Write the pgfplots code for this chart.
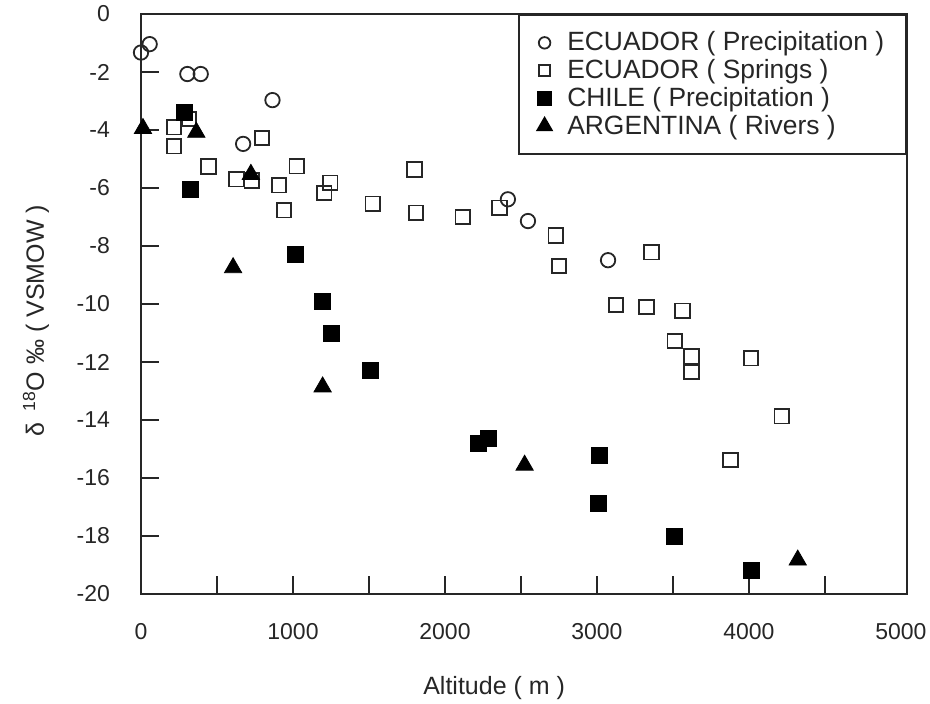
\documentclass[border=0pt]{standalone}
\usepackage{pgfplots}
\pgfplotsset{compat=1.18}
\usepackage{fontspec}
\setmainfont{Liberation Sans}
\begin{document}
\begin{tikzpicture}
\useasboundingbox (-70.5pt,-55pt) rectangle (394.5pt,297pt);
\begin{axis}[
  at={(0,0)}, anchor=south west,
  scale only axis,
  width=383pt, height=290pt,
  xmin=0, xmax=5040, ymin=-20, ymax=0,
  axis line style={line width=1pt, black!85},
  tick align=inside,
  xtick pos=bottom, ytick pos=left,
  xtick={0,500,...,4500},
  xticklabels={0,,1000,,2000,,3000,,4000,},
  extra x ticks={5000},
  extra x tick labels={5000},
  extra x tick style={major tick length=0pt},
  ytick={-20,-18,...,0},
  major tick length=9pt,
  tick style={line width=1pt, black!85},
  /pgf/number format/assume math mode=true,
  /pgf/number format/1000 sep={},
  tick label style={font=\fontsize{11.5}{13}\selectfont, text=black!85},
  yticklabel style={xshift=-12pt},
  xticklabel style={yshift=-11pt},
  xlabel={Altitude ( m )},
  xlabel style={at={(rel axis cs:0.461,0)}, anchor=north, inner sep=0pt, yshift=-41pt, font=\fontsize{12.5}{14}\selectfont, text=black!85},
  ylabel={δ\, \textsuperscript{18}O ‰ ( VSMOW )},
  ylabel style={at={(rel axis cs:-0.137,0.471)}, anchor=center, font=\fontsize{12.5}{14}\selectfont, text=black!85},
  legend style={at={(rel axis cs:1,1)}, anchor=north east, draw=black!85, line width=1pt,
    inner xsep=9.5pt, inner ysep=7pt, font=\fontsize{13.2}{15}\selectfont, text=black!85,
    nodes={inner sep=1.4pt}, row sep=0pt, column sep=6.5pt},
  legend image post style={every mark/.append style={scale=0.8}},
  legend cell align=left,
]
\addplot[only marks, mark=o, mark size=3.6pt, mark options={line width=0.9pt, black!85}] coordinates {
(0,-1.33) (57,-1.04) (305,-2.07) (393,-2.07) (865,-2.97) (672,-4.48)
(2414,-6.39) (2546,-7.14) (3073,-8.49)
};
\addlegendentry{ECUADOR ( Precipitation )}
\addplot[only marks, mark=square, mark size=3.6pt, mark options={line width=0.9pt, black!85, fill=white}] coordinates {
(217,-3.91) (217,-4.56) (316,-3.62) (444,-5.26) (628,-5.70) (729,-5.74)
(795,-4.27) (909,-5.91) (940,-6.77) (1024,-5.25) (1206,-6.17) (1245,-5.82)
(1524,-6.54) (1799,-5.36) (1810,-6.85) (2117,-7.00) (2359,-6.68)
(2728,-7.64) (2750,-8.69) (3359,-8.22) (3124,-10.03) (3326,-10.11)
(3563,-10.23) (3512,-11.27) (3622,-11.81) (3622,-12.35) (4013,-11.87)
(4216,-13.87) (3879,-15.38)
};
\addlegendentry{ECUADOR ( Springs )}
\addplot[only marks, mark=square*, mark size=4pt, mark options={black}] coordinates {
(288,-3.41) (327,-6.05) (1015,-8.29) (1195,-9.92) (1252,-11.01)
(1509,-12.30) (2221,-14.81) (2289,-14.62) (3018,-15.22) (3012,-16.88)
(3512,-18.03) (4013,-19.18)
};
\addlegendentry{CHILE ( Precipitation )}
\addplot[only marks, mark=triangle*, mark size=5pt, mark options={black}] coordinates {
(13,-3.95) (364,-4.08) (723,-5.53) (606,-8.75) (1195,-12.86)
(2524,-15.56) (4321,-18.83)
};
\addlegendentry{ARGENTINA ( Rivers )}
\end{axis}
\end{tikzpicture}
\end{document}
